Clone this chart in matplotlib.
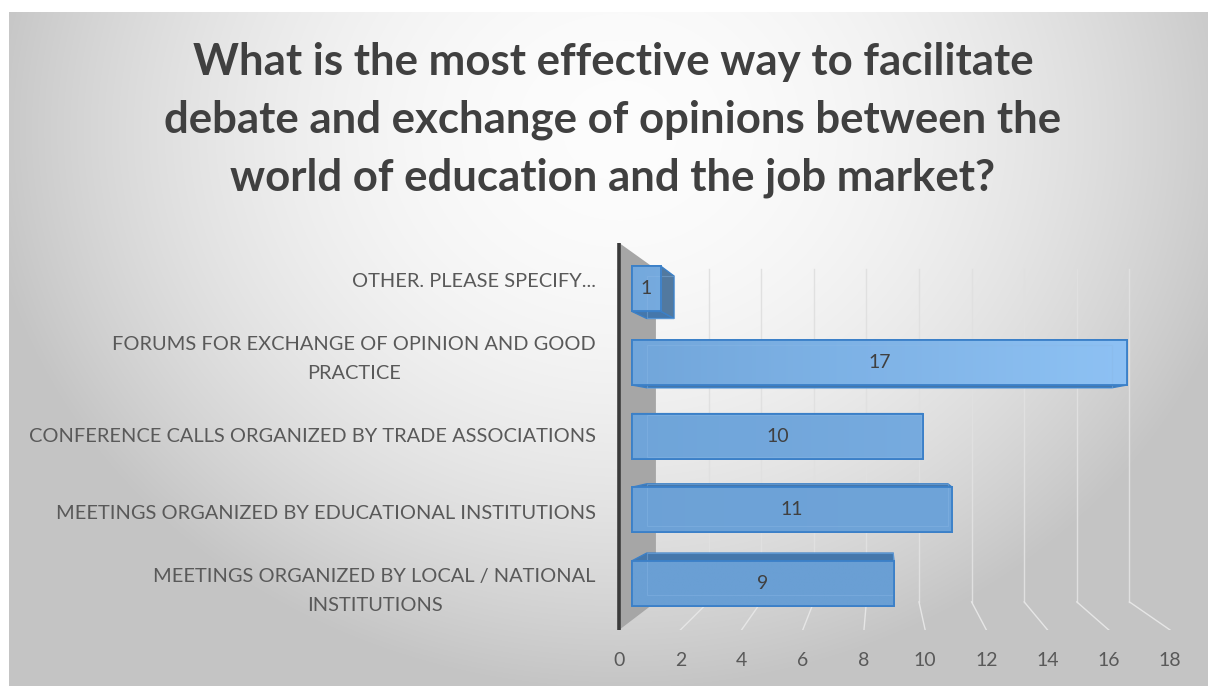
import numpy as np
import matplotlib.pyplot as plt
from matplotlib.patches import Polygon

# ---- data ----
title_lines = ['What is the most effective way to facilitate',
               'debate and exchange of opinions between the',
               'world of education and the job market?']
categories = ['MEETINGS ORGANIZED BY LOCAL / NATIONAL\nINSTITUTIONS',
              'MEETINGS ORGANIZED BY EDUCATIONAL INSTITUTIONS',
              'CONFERENCE CALLS ORGANIZED BY TRADE ASSOCIATIONS',
              'FORUMS FOR EXCHANGE OF OPINION AND GOOD\nPRACTICE',
              'OTHER. PLEASE SPECIFY...']
values = [9, 11, 10, 17, 1]
x_ticks = [0, 2, 4, 6, 8, 10, 12, 14, 16, 18]

plt.rcParams['font.family'] = ['Lato', 'DejaVu Sans']

W, H = 1208, 686
fig = plt.figure(figsize=(W / 100, H / 100), dpi=100)
fig.patch.set_facecolor('white')

# background radial gradient (chart area)
bg = fig.add_axes([0, 0, 1, 1])
bg.set_xlim(0, W)
bg.set_ylim(H, 0)
bg.axis('off')
yy, xx = np.mgrid[0:H, 0:W]
r = np.sqrt(((xx - 620) / 640.0) ** 2 + ((yy - 130) / 560.0) ** 2)
shade = 0.99 - 0.22 * np.clip(r, 0, 1.0) ** 2
img = np.dstack([shade, shade, shade])
bg.imshow(img[12:, 9:], extent=[9, W, H, 12], aspect='auto', zorder=0)

# ---- 3d-ish perspective helpers (data units of the front plane) ----
VX, VY = 8.56, 2.08          # vanishing point
S_FRONT, S_BAR_F, S_BAR_B, S_BACK = 1.052, 1.0, 0.941, 0.904
PX_X, PX_Y = 29.1, 73.6     # pixels per data unit


def proj(v, y, s):
    return VX + s * (v - VX), VY + s * (y - VY)


ax = fig.add_axes([600 / W, (H - 630) / H, 600 / W, 400 / H])
ax.patch.set_alpha(0)
y_bot = proj(0, -0.5, S_FRONT)[1]
for sp in ax.spines.values():
    sp.set_visible(False)

n = len(categories)
y_lo, y_hi = -0.5, n - 0.5

# back wall gridlines + floor lines
for v in x_ticks[1:]:
    xb0, yb0 = proj(v, y_lo, S_BACK)
    xb1, yb1 = proj(v, y_hi, S_BACK)
    xf0, yf0 = proj(v, y_lo, S_FRONT)
    ax.plot([xb0, xb1], [yb0, yb1], color='#e0e0e0', lw=1.0, zorder=1)
    ax.plot([xb0, xf0], [yb0, yf0], color='#e6e6e6', lw=1.0, zorder=1)

# side wall
wall = [proj(0, y_lo, S_FRONT), proj(0, y_hi, S_FRONT),
        proj(0, y_hi, S_BACK), proj(0, y_lo, S_BACK)]
ax.add_patch(Polygon(wall, closed=True, facecolor='#a6a6a6', edgecolor='none', zorder=2))
p0, p1 = proj(0, y_lo, S_FRONT), proj(0, y_hi, S_FRONT)
ax.plot([p0[0], p1[0]], [p0[1], p1[1]], color='#3a3a3a', lw=2.6, zorder=3,
        solid_capstyle='butt')

# bars
h = 0.306
c_lo = np.array([106, 159, 212]) / 255
c_hi = np.array([146, 197, 247]) / 255
pos = np.arange(n)
bars = ax.barh(pos, values, height=2 * h, color='#6fa6db', edgecolor='#3b80c8',
               linewidth=1.3, zorder=6)
for i, (val, bar) in enumerate(zip(values, bars)):
    y0, y1 = i - h, i + h
    # top or bottom face
    yy_face = y1 if i < VY else y0
    face = [proj(0, yy_face, S_BAR_F), proj(val, yy_face, S_BAR_F),
            proj(val, yy_face, S_BAR_B), proj(0, yy_face, S_BAR_B)]
    ax.add_patch(Polygon(face, closed=True, facecolor='#4577ab', edgecolor='#3b80c8',
                         lw=1.0, zorder=5))
    # right end face
    if val < VX:
        side = [proj(val, y0, S_BAR_F), proj(val, y1, S_BAR_F),
                proj(val, y1, S_BAR_B), proj(val, y0, S_BAR_B)]
        ax.add_patch(Polygon(side, closed=True, facecolor='#52799f', edgecolor='#3b80c8',
                             lw=1.0, zorder=5))
    # front gradient
    vs = np.linspace(0, val, 200)
    t = np.clip(0.07 * i + 0.045 * vs * (min(i, 3) / 3.0) ** 2, 0, 1)
    grad = c_lo[None, :] * (1 - t[:, None]) + c_hi[None, :] * t[:, None]
    im = ax.imshow(grad[None, :, :], extent=[0, val, y0, y1], aspect='auto',
                   origin='lower', zorder=6.5, alpha=0.93)
    im.set_clip_path(bar)
    # back face edges seen through the bar
    back = [proj(0, y0, S_BAR_B), proj(val, y0, S_BAR_B),
            proj(val, y1, S_BAR_B), proj(0, y1, S_BAR_B)]
    ax.add_patch(Polygon(back, closed=True, facecolor='none', edgecolor='#8ab8e6',
                         lw=0.8, alpha=0.4, zorder=7))
    ax.add_patch(Polygon([(0, y0), (val, y0), (val, y1), (0, y1)], closed=True,
                         facecolor='none', edgecolor='#3b80c8', lw=1.3, zorder=8))
    ax.text(val / 2, i, str(val), ha='center', va='center', fontsize=14,
            color='#404040', zorder=9)

ax.set_xlim((600 - 632) / PX_X, (1200 - 632) / PX_X)
ax.set_ylim(y_bot, y_bot + 400 / PX_Y)

# ticks
ax.set_xticks([proj(v, y_lo, S_FRONT)[0] for v in x_ticks])
ax.set_xticklabels([str(v) for v in x_ticks], fontsize=14, color='#595959')
ax.set_yticks([proj(0, i, S_FRONT)[1] for i in range(n)])
ax.set_yticklabels(categories, fontsize=14.4, color='#595959', linespacing=1.85)
for lab in ax.get_yticklabels():
    lab.set_multialignment('center')
    lab.set_verticalalignment('center')
ax.tick_params(axis='x', length=0, pad=16)
ax.tick_params(axis='y', length=0, pad=3)

# title
for k, line in enumerate(title_lines):
    fig.text(613 / W, 1 - (62 + 58 * k) / H, line, ha='center', va='center',
             fontsize=31.5, fontweight='bold', color='#404040')

fig.savefig('out.png', dpi=100)
